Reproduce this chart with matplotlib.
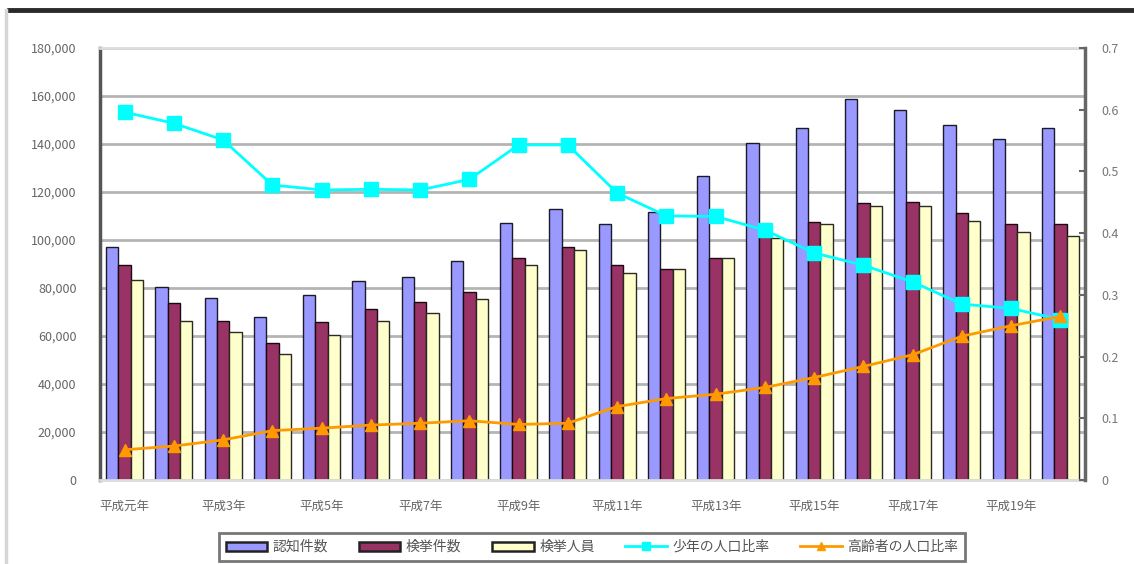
import matplotlib
matplotlib.use("Agg")
import matplotlib.pyplot as plt
import numpy as np
from matplotlib.patches import Patch
from matplotlib.lines import Line2D

plt.rcParams['font.family'] = ['Noto Sans CJK JP', 'DejaVu Sans']

years = ["平成元年", "平成2年", "平成3年", "平成4年", "平成5年", "平成6年", "平成7年",
         "平成8年", "平成9年", "平成10年", "平成11年", "平成12年", "平成13年", "平成14年",
         "平成15年", "平成16年", "平成17年", "平成18年", "平成19年", "平成20年"]
tick_labels = ["平成元年", "平成3年", "平成5年", "平成7年", "平成9年",
               "平成11年", "平成13年", "平成15年", "平成17年", "平成19年"]

ninchi = [97200, 80300, 75700, 67800, 77100, 82900, 84700, 91250, 106900, 112800,
          106500, 111800, 126700, 140500, 146500, 158750, 154200, 147900, 142100, 146500]
kenkyo_kensu = [89600, 73600, 66400, 56900, 65700, 71100, 74000, 78500, 92600, 97200,
                89600, 87900, 92600, 102500, 107600, 115500, 116000, 111400, 106700, 106700]
kenkyo_jinin = [83300, 66400, 61500, 52400, 60400, 66250, 69400, 75400, 89600, 95800,
                86100, 87900, 92600, 101000, 106700, 114200, 114200, 108100, 103500, 101700]
ratio_a = [0.596, 0.578, 0.551, 0.478, 0.470, 0.471, 0.470, 0.487, 0.543, 0.543,
           0.465, 0.428, 0.427, 0.405, 0.368, 0.348, 0.321, 0.285, 0.278, 0.260]
ratio_b = [0.049, 0.055, 0.065, 0.080, 0.084, 0.089, 0.092, 0.096, 0.090, 0.092,
           0.119, 0.132, 0.139, 0.150, 0.166, 0.184, 0.203, 0.233, 0.250, 0.265]

legend_labels = ["認知件数", "検挙件数", "検挙人員", "少年の人口比率", "高齢者の人口比率"]

left_ticks = list(range(0, 180001, 20000))
right_ticks = [0, 0.1, 0.2, 0.3, 0.4, 0.5, 0.6, 0.7]

c_blue = "#9999FF"
c_maroon = "#993366"
c_yellow = "#FFFFCC"
c_cyan = "#00FFFF"
c_orange = "#FF9900"

fig = plt.figure(figsize=(11.34, 5.64), dpi=100)
fig.patch.set_facecolor("white")

# outer frame lines
fig.add_artist(Line2D([9/1134, 1.0], [1-10/564, 1-10/564], color="#2a2a2a", lw=3.5))
fig.add_artist(Line2D([6/1134, 6/1134], [0, 1-10/564], color="#d6d6d6", lw=2.5))

ax = fig.add_axes([100/1134, 1-480/564, 985/1134, 432/564])
x = np.arange(len(years))
w = 0.25
ax.bar(x - w, ninchi, w, color=c_blue, edgecolor="#1a1a2a", linewidth=1.0, zorder=2)
ax.bar(x, kenkyo_kensu, w, color=c_maroon, edgecolor="#1a0a10", linewidth=1.0, zorder=2)
ax.bar(x + w, kenkyo_jinin, w, color=c_yellow, edgecolor="#2a2a20", linewidth=1.0, zorder=2)

ax.set_xlim(-0.5, len(years) - 0.5)
ax.set_ylim(0, 180000)
ax.set_yticks(left_ticks)
ax.set_yticklabels([f"{v:,}" for v in left_ticks])
ax.yaxis.grid(True, color="#b4b4b4", lw=2, zorder=0)
ax.set_axisbelow(True)
ax.set_xticks(x[::2])
ax.set_xticklabels(tick_labels)
ax.tick_params(axis="x", length=0, pad=14, labelsize=9, colors="#666666")
ax.tick_params(axis="y", length=0, pad=17, labelsize=9, colors="#666666")
for s in ["top", "bottom"]:
    ax.spines[s].set_color("#dcdcdc")
    ax.spines[s].set_linewidth(2)
ax.spines["left"].set_color("#555555")
ax.spines["left"].set_linewidth(2.5)
ax.spines["right"].set_visible(False)

ax2 = ax.twinx()
ax2.set_ylim(0, 0.7)
ax2.set_yticks(right_ticks)
ax2.set_yticklabels(["0" if v == 0 else f"{v:.1f}" for v in right_ticks])
ax2.tick_params(axis="y", direction="in", length=4, width=1.5, color="#666666",
                pad=12, labelsize=9, labelcolor="#777777")
for s in ["top", "bottom", "left"]:
    ax2.spines[s].set_visible(False)
ax2.spines["right"].set_color("#666666")
ax2.spines["right"].set_linewidth(2.5)

ax2.plot(x, ratio_a, color=c_cyan, lw=2, marker="s", markersize=10, zorder=3)
ax2.plot(x, ratio_b, color=c_orange, lw=2, marker="^", markersize=8, zorder=3)

handles = [
    Patch(facecolor=c_blue, edgecolor="#222222", linewidth=1.8),
    Patch(facecolor=c_maroon, edgecolor="#222222", linewidth=1.8),
    Patch(facecolor=c_yellow, edgecolor="#222222", linewidth=1.8),
    Line2D([], [], color=c_cyan, lw=2, marker="s", markersize=6),
    Line2D([], [], color=c_orange, lw=2, marker="^", markersize=6),
]
leg = fig.legend(handles, legend_labels, ncol=5, loc="center",
                 bbox_to_anchor=(592/1134, 1-547/564), fontsize=10, frameon=True,
                 fancybox=False, handlelength=3.0, handleheight=0.6,
                 columnspacing=2.2, handletextpad=0.4, borderpad=0.5,
                 borderaxespad=0)
leg.get_frame().set_edgecolor("#555555")
leg.get_frame().set_linewidth(2)
for t in leg.get_texts():
    t.set_color("#555555")

fig.savefig("out.png", dpi=100, facecolor="white")
